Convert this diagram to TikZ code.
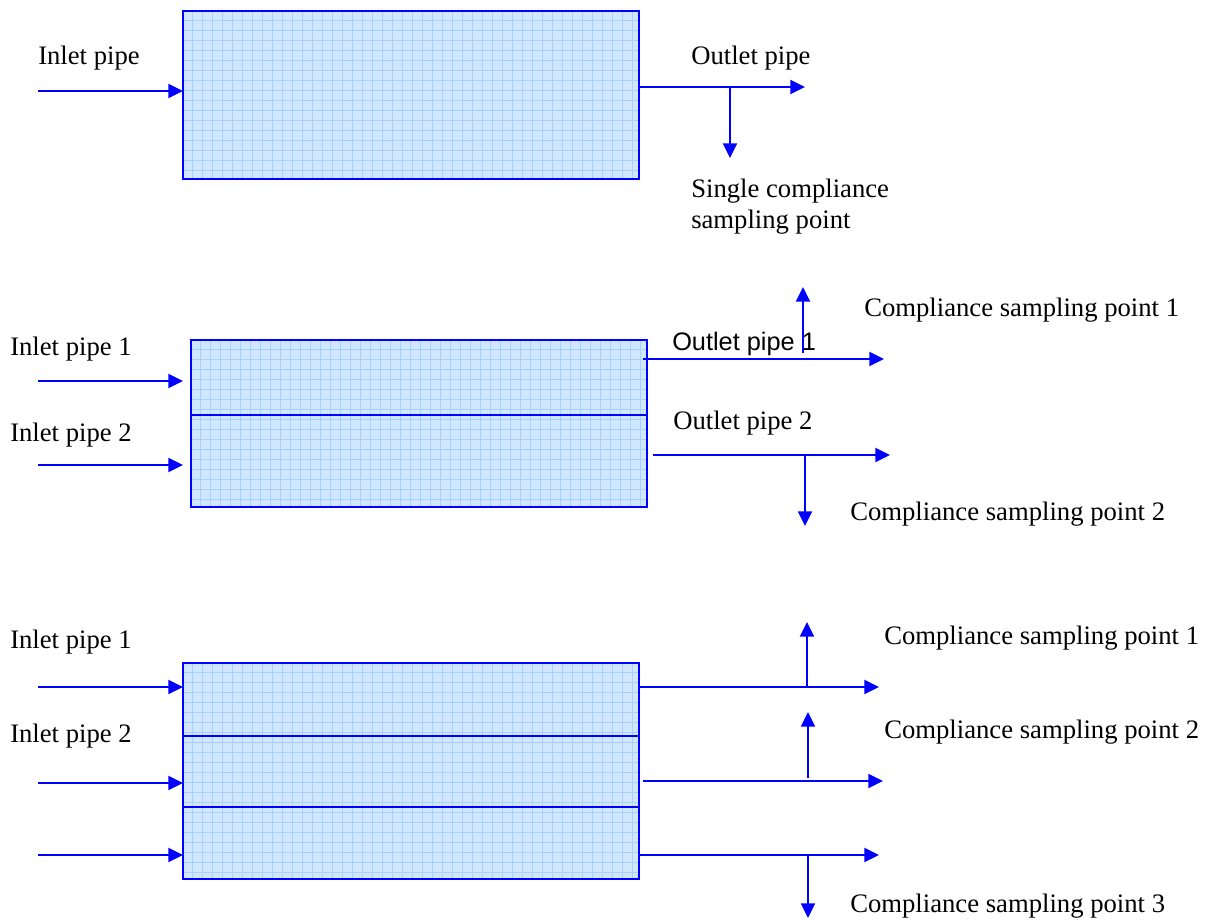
\documentclass[tikz,border=0pt]{standalone}
\usepackage{fontspec}
\setmainfont{Liberation Serif}
\newfontfamily\arialf{Liberation Sans}
\usetikzlibrary{arrows.meta}
\definecolor{pipeblue}{HTML}{0000FF}
\definecolor{tankfill}{HTML}{D0E7FF}
\definecolor{tankgrid}{HTML}{A6D2FF}
\tikzset{
  pipe/.style={draw=pipeblue, line width=1.5pt, -{Triangle[length=11pt,width=10.5pt]}},
  tank/.style={fill=tankfill, inner sep=0pt},
  divider/.style={draw=pipeblue, line width=1.5pt},
  lbl/.style={anchor=base west, inner sep=0pt, font=\fontsize{20pt}{24pt}\selectfont},
  lbls/.style={anchor=base west, inner sep=0pt, font=\arialf\fontsize{19pt}{23pt}\selectfont}
}
\newcommand\tankgridfill[1]{%
  \begin{scope}
    \clip (#1.south west) rectangle (#1.north east);
    \begin{scope}[shift={(#1.north west)}]
      \draw[tankgrid, line width=0.6pt, step=7.5pt] (0pt,-200pt) grid (400pt,0pt);
    \end{scope}
  \end{scope}
  \draw[divider] (#1.south west) rectangle (#1.north east);
}
\begin{document}
\begin{tikzpicture}[x=0.75pt,y=-0.75pt]
\useasboundingbox (0,0) rectangle (1209,922);

% ---------- diagram 1 ----------
\node[tank, minimum width=342pt, minimum height=126pt] (b1) at (411,95) {};
\tankgridfill{b1}
\coordinate (a1s) at (38,91);
\coordinate (a1e) at (183,91);
\draw[pipe] (a1s) -- (a1e);
\coordinate (o1s) at (639,87);
\coordinate (o1e) at (805,87);
\draw[pipe] (o1s) -- (o1e);
\coordinate (s1s) at (730,87);
\coordinate (s1e) at (730,158);
\draw[pipe] (s1s) -- (s1e);
\node[lbl] (t1) at (38,64) {Inlet pipe};
\node[lbl] (t2) at (691,64) {Outlet pipe};
\node[lbl] (t3) at (691,197) {Single compliance};
\node[lbl] (t4) at (691,228) {sampling point};

% ---------- diagram 2 ----------
\node[tank, minimum width=342pt, minimum height=125.25pt] (b2) at (419,423.5) {};
\tankgridfill{b2}
\coordinate (d2a) at (191,415);
\coordinate (d2b) at (647,415);
\draw[divider] (d2a) -- (d2b);
\coordinate (a2s) at (38,381);
\coordinate (a2e) at (183,381);
\draw[pipe] (a2s) -- (a2e);
\coordinate (a3s) at (38,465);
\coordinate (a3e) at (183,465);
\draw[pipe] (a3s) -- (a3e);
\coordinate (o2s) at (643,359);
\coordinate (o2e) at (884,359);
\draw[pipe] (o2s) -- (o2e);
\coordinate (s2s) at (803,353);
\coordinate (s2e) at (803,287);
\draw[pipe] (s2s) -- (s2e);
\coordinate (o3s) at (653,455);
\coordinate (o3e) at (890,455);
\draw[pipe] (o3s) -- (o3e);
\coordinate (s3s) at (805,455);
\coordinate (s3e) at (805,526);
\draw[pipe] (s3s) -- (s3e);
\node[lbl] (t5) at (864,316) {Compliance sampling point 1};
\node[lbl] (t6) at (10,355) {Inlet pipe 1};
\node[lbls] (t7) at (672,350) {Outlet pipe 1};
\node[lbl] (t8) at (10,441) {Inlet pipe 2};
\node[lbl] (t9) at (673,429) {Outlet pipe 2};
\node[lbl] (t10) at (850,520) {Compliance sampling point 2};

% ---------- diagram 3 ----------
\node[tank, minimum width=342pt, minimum height=162pt] (b3) at (411,771) {};
\tankgridfill{b3}
\coordinate (d3a) at (183,735.5);
\coordinate (d3b) at (639,735.5);
\draw[divider] (d3a) -- (d3b);
\coordinate (d3c) at (183,807);
\coordinate (d3d) at (639,807);
\draw[divider] (d3c) -- (d3d);
\coordinate (a4s) at (38,687);
\coordinate (a4e) at (183,687);
\draw[pipe] (a4s) -- (a4e);
\coordinate (a5s) at (38,783);
\coordinate (a5e) at (183,783);
\draw[pipe] (a5s) -- (a5e);
\coordinate (a6s) at (38,855);
\coordinate (a6e) at (183,855);
\draw[pipe] (a6s) -- (a6e);
\coordinate (o4s) at (639,687);
\coordinate (o4e) at (879,687);
\draw[pipe] (o4s) -- (o4e);
\coordinate (s4s) at (807,687);
\coordinate (s4e) at (807,622);
\draw[pipe] (s4s) -- (s4e);
\coordinate (o5s) at (643,781);
\coordinate (o5e) at (883,781);
\draw[pipe] (o5s) -- (o5e);
\coordinate (s5s) at (808,778);
\coordinate (s5e) at (808,712);
\draw[pipe] (s5s) -- (s5e);
\coordinate (o6s) at (639,855);
\coordinate (o6e) at (879,855);
\draw[pipe] (o6s) -- (o6e);
\coordinate (s6s) at (808,855);
\coordinate (s6e) at (808,918);
\draw[pipe] (s6s) -- (s6e);
\node[lbl] (t11) at (10,648) {Inlet pipe 1};
\node[lbl] (t12) at (884,644) {Compliance sampling point 1};
\node[lbl] (t13) at (10,742) {Inlet pipe 2};
\node[lbl] (t14) at (884,738) {Compliance sampling point 2};
\node[lbl] (t15) at (850,912) {Compliance sampling point 3};
\end{tikzpicture}
\end{document}
